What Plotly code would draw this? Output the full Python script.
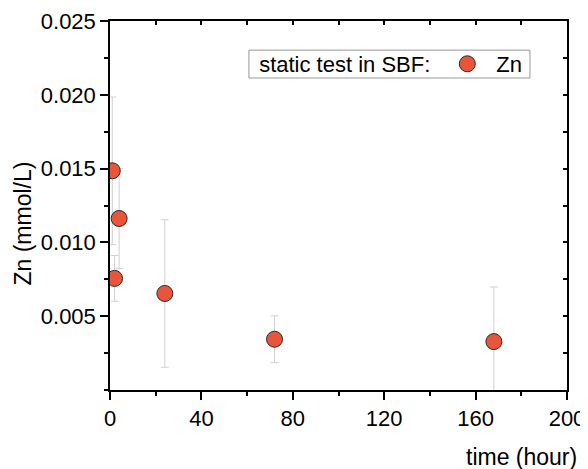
import plotly.graph_objects as go

time_h = [1, 2, 4, 24, 72, 168]
zn = [0.01485, 0.00756, 0.01162, 0.00654, 0.00344, 0.00328]
zn_err = [0.0050, 0.00155, 0.0034, 0.0050, 0.00158, 0.0037]

y_ticks = [0.005, 0.010, 0.015, 0.020, 0.025]
y_ticktext = ["0.005", "0.010", "0.015", "0.020", "0.025"]
x_ticks = [0, 40, 80, 120, 160, 200]

FONT = "Liberation Sans, Arial, sans-serif"
fig = go.Figure()
fig.add_trace(go.Scatter(
    x=time_h, y=zn, mode="markers", name="Zn",
    marker=dict(size=16, color="#E9553B", line=dict(color="#2a2a2a", width=1)),
    error_y=dict(type="data", array=zn_err, visible=True, color="#d0d0d0", thickness=1, width=4),
    cliponaxis=True,
))
# invisible trace for mirrored axes
fig.add_trace(go.Scatter(x=[0, 200], y=[0, 0.025], xaxis="x2", yaxis="y2",
                         mode="markers", marker=dict(opacity=0), showlegend=False, hoverinfo="skip"))

fig.update_layout(
    width=580, height=461,
    margin=dict(l=102, r=21, t=13, b=79, autoexpand=False),
    paper_bgcolor="white", plot_bgcolor="white",
    font=dict(family=FONT, size=22, color="black"),
    showlegend=True,
    legend=dict(
        x=0.322, y=0.8835, xanchor="left", yanchor="middle",
        borderwidth=0, bgcolor="rgba(0,0,0,0)",
        font=dict(size=22),
        title=dict(text="static test in SBF:", side="left", font=dict(size=22)),
        itemsizing="trace", itemwidth=48,
    ),
    shapes=[dict(type="rect", xref="paper", yref="paper", x0=0.304, x1=0.919, y0=0.8455, y1=0.921,
                 line=dict(color="#999999", width=1), fillcolor="white", layer="below")],
    xaxis=dict(
        range=[0, 200], tickvals=x_ticks, ticks="outside", ticklen=8, tickwidth=1.5,
        tickcolor="black", showline=True, linecolor="black", linewidth=1.5, automargin=False,
        showgrid=False, zeroline=False, tickfont=dict(size=22),
        minor=dict(dtick=20, tick0=0, ticks="outside", ticklen=4, tickwidth=1.5, tickcolor="black", showgrid=False),
    ),
    yaxis=dict(
        range=[0, 0.025], tickvals=y_ticks, ticktext=y_ticktext, ticks="outside", ticklen=8,
        tickwidth=1.5, tickcolor="black", showline=True, linecolor="black", linewidth=1.5, automargin=False,
        showgrid=False, zeroline=False, tickfont=dict(size=22),
        minor=dict(dtick=0.0025, tick0=0, ticks="outside", ticklen=4, tickwidth=1.5, tickcolor="black", showgrid=False),
    ),
    xaxis2=dict(range=[0, 200], overlaying="x", side="top", anchor="y", showline=True, automargin=False,
                linecolor="black", linewidth=1.5, ticks="inside", dtick=20, tick0=0, ticklen=4,
                tickwidth=1.5, tickcolor="black", showticklabels=False, showgrid=False, zeroline=False),
    yaxis2=dict(range=[0, 0.025], overlaying="y", side="right", anchor="x", showline=True, automargin=False,
                linecolor="black", linewidth=1.5, ticks="inside", dtick=0.0025, tick0=0, ticklen=4,
                tickwidth=1.5, tickcolor="black", showticklabels=False, showgrid=False, zeroline=False),
    annotations=[
        dict(text="time (hour)", xref="paper", yref="paper", x=1.027, y=-0.1816,
             xanchor="right", yanchor="middle", showarrow=False, font=dict(size=23)),
        dict(text="Zn (mmol/L)", xref="paper", yref="paper", x=-0.1904, y=0.451,
             xanchor="center", yanchor="middle", textangle=-90, showarrow=False, font=dict(size=23)),
    ],
)

fig.write_html("out.html")
